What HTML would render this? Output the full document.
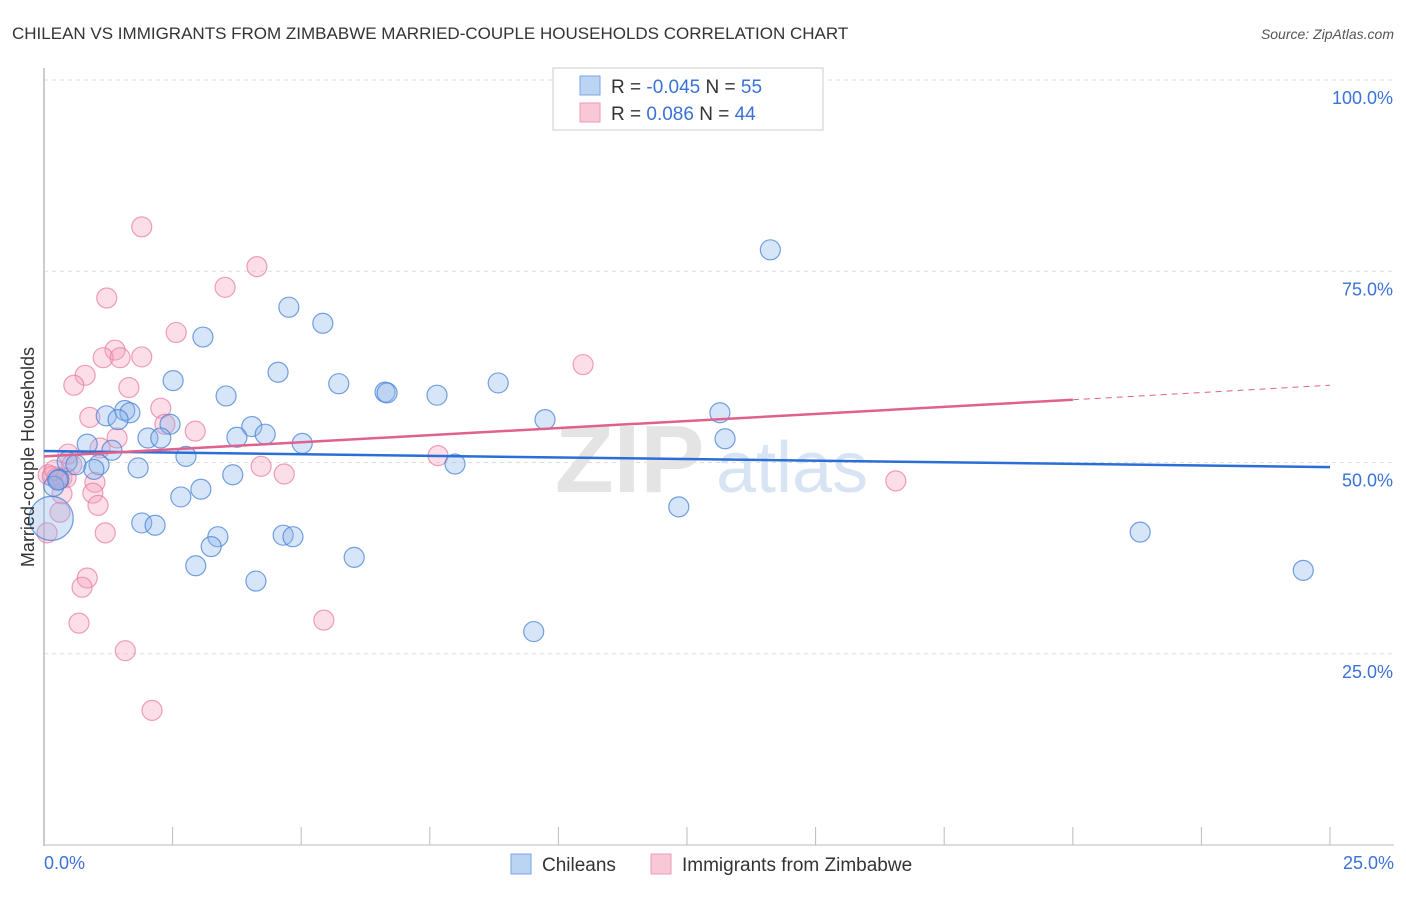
<!DOCTYPE html>
<html><head><meta charset="utf-8"><style>
body{margin:0;background:#fff;font-family:"Liberation Sans",sans-serif;}
svg text{font-family:"Liberation Sans",sans-serif;}
</style></head><body>
<svg width="1406" height="892" xmlns="http://www.w3.org/2000/svg">
<text x="12" y="39" font-size="17" fill="#333">CHILEAN VS IMMIGRANTS FROM ZIMBABWE MARRIED-COUPLE HOUSEHOLDS CORRELATION CHART</text>
<text x="1394" y="39" font-size="14" fill="#555" font-style="italic" text-anchor="end">Source: ZipAtlas.com</text>
<g id="grid"></g>
<text x="555" y="492" font-size="96" fill="#e4e4e4" font-family="Liberation Serif" font-weight="bold">ZIP</text>
<text x="716" y="492" font-size="72" fill="#d8e4f4">atlas</text>
<line x1="44" y1="68" x2="44" y2="846" stroke="#bbb" stroke-width="1.5"/>
<line x1="44" y1="845" x2="1394" y2="845" stroke="#bbb" stroke-width="1"/>
<g id="marks"></g>
<text transform="translate(34,457) rotate(-90)" font-size="18" fill="#333" text-anchor="middle">Married-couple Households</text>
<text x="44" y="869" font-size="18" fill="#3a72d8">0.0%</text>
<text x="1394" y="869" font-size="18" fill="#3a72d8" text-anchor="end">25.0%</text>
<g>
<rect x="553" y="68" width="270" height="62" fill="#fff" stroke="#ccc"/>
<rect x="580" y="76" width="20" height="19" fill="#bcd4f4" stroke="#7aa6e6"/>
<rect x="580" y="103" width="20" height="19" fill="#f9c8d6" stroke="#ee9ab4"/>
<text x="611" y="93" font-size="19" fill="#333">R = <tspan fill="#3a72d8">-0.045</tspan>   N = <tspan fill="#3a72d8">55</tspan></text>
<text x="611" y="120" font-size="19" fill="#333">R =  <tspan fill="#3a72d8"> 0.086</tspan>   N = <tspan fill="#3a72d8">44</tspan></text>
</g>
<g>
<rect x="511" y="854" width="20" height="20" fill="#bcd4f4" stroke="#7aa6e6"/>
<text x="542" y="871" font-size="19" fill="#333">Chileans</text>
<rect x="651" y="854" width="20" height="20" fill="#f9c8d6" stroke="#ee9ab4"/>
<text x="682" y="871" font-size="19" fill="#333">Immigrants from Zimbabwe</text>
</g>
</svg>
<script>
const yTicks=[25,50,75,100];
const yTickLabels=["25.0%","50.0%","75.0%","100.0%"];
const xTicks=[0,2.5,5,7.5,10,12.5,15,17.5,20,22.5,25];
const chileansX=[14.12,4.76,5.42,3.09,4.55,2.51,5.73,8.83,6.63,6.67,7.64,3.54,1.57,1.67,1.21,1.44,13.14,9.74,4.04,2.45,2.02,2.27,3.75,4.3,5.02,13.24,0.84,1.32,2.76,0.45,1.07,0.62,0.97,1.83,7.99,3.67,0.29,0.19,3.05,2.66,12.34,1.9,2.16,0.14,3.38,3.25,4.65,4.84,21.31,6.03,2.95,24.48,4.12,9.52,0.27];
const chileansY=[77.8,70.3,68.2,66.4,61.8,60.7,60.3,60.4,59.2,59.1,58.8,58.7,56.8,56.5,56.1,55.6,56.5,55.6,54.7,55.0,53.2,53.2,53.3,53.7,52.5,53.1,52.4,51.6,50.8,50.1,49.7,49.7,49.1,49.3,49.8,48.4,47.8,46.9,46.5,45.5,44.2,42.1,41.8,42.7,40.3,39.0,40.5,40.3,40.9,37.6,36.5,35.9,34.5,27.9,47.7];
const chileansR=[10,10,10,10,10,10,10,10,10,10,10,10,10,10,10,10,10,10,10,10,10,10,10,10,10,10,10,10,10,10,10,10,10,10,10,10,10,10,10,10,10,10,10,22,10,10,10,10,10,10,10,10,10,10,10];
const zimX=[1.9,4.14,3.52,1.22,2.57,1.38,1.15,1.48,1.9,10.48,0.8,0.58,1.65,2.27,0.89,2.35,2.94,1.42,1.09,0.47,4.22,7.66,4.67,16.56,0.08,0.16,0.25,0.35,0.43,0.99,0.35,0.95,1.05,0.31,1.19,0.06,0.84,0.74,0.68,5.44,1.58,2.1,0.21,0.54];
const zimY=[80.8,75.6,72.9,71.5,67.0,64.7,63.7,63.7,63.8,62.8,61.4,60.1,59.8,57.1,55.9,55.0,54.1,53.2,51.9,51.1,49.5,50.9,48.5,47.6,48.4,48.2,48.0,48.0,48.0,47.4,45.9,46.0,44.4,43.5,40.8,40.8,34.9,33.7,29.0,29.4,25.4,17.6,49.0,49.7];
const zimR=[10,10,10,10,10,10,10,10,10,10,10,10,10,10,10,10,10,10,10,10,10,10,10,10,10,10,10,10,10,10,10,10,10,10,10,10,10,10,10,10,10,10,10,10];
const trendChileans=[51.5,49.4];
const trendZim=[50.8,58.2,60.1];
const NS="http://www.w3.org/2000/svg";
const X=v=>44+v/25*1286, Y=v=>845-v*7.65;
const grid=document.getElementById('grid'), marks=document.getElementById('marks');
function mk(tag,a,parent){const e=document.createElementNS(NS,tag);for(const k in a)e.setAttribute(k,a[k]);parent.appendChild(e);return e;}
yTicks.forEach((t,i)=>{
 const l=mk('line',{x1:44,x2:1394,y1:Y(t),y2:Y(t),stroke:'#ddd','stroke-dasharray':'4,4'},grid);
 
 
 const tx=mk('text',{x:1393,y:Y(t)+24,'font-size':18,fill:'#3a72d8','text-anchor':'end'},grid);
 tx.textContent=yTickLabels[i];
 
 
});
xTicks.forEach(t=>{
 const l=mk('line',{x1:X(t),x2:X(t),y1:827,y2:845,stroke:'#bbb'},grid);
 
 
});
zimX.forEach((v,i)=>{
 const c=mk('circle',{cx:X(v),cy:Y(zimY[i]),r:zimR[i],fill:'rgba(244,160,188,0.35)',stroke:'rgba(232,120,158,0.7)','stroke-width':1.2},marks);
 
 
});
chileansX.forEach((v,i)=>{
 const c=mk('circle',{cx:X(v),cy:Y(chileansY[i]),r:chileansR[i],fill:'rgba(140,180,235,0.35)',stroke:'rgba(70,130,215,0.75)','stroke-width':1.2},marks);
 
 
});
const lb=mk('line',{x1:X(0),y1:Y(trendChileans[0]),x2:X(25),y2:Y(trendChileans[1]),stroke:'#2a6fd6','stroke-width':2.5},marks);


const lp=mk('line',{x1:X(0),y1:Y(trendZim[0]),x2:X(20),y2:Y(trendZim[1]),stroke:'#e0608e','stroke-width':2.5},marks);


const lpd=mk('line',{x1:X(20),y1:Y(trendZim[1]),x2:X(25),y2:Y(trendZim[2]),stroke:'#e0608e','stroke-width':1,'stroke-dasharray':'6,5'},marks);


</script>
</body></html>
